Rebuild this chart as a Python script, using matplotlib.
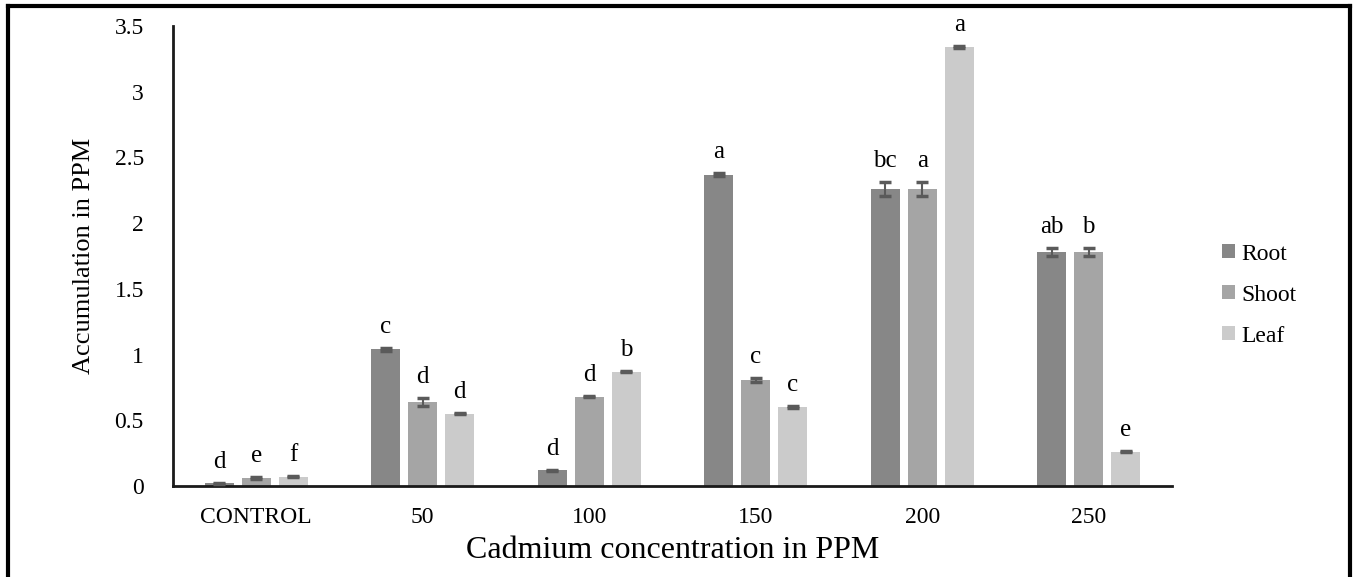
import matplotlib.pyplot as plt
import numpy as np
from matplotlib.lines import Line2D

plt.rcParams['font.family'] = ['Liberation Serif', 'DejaVu Serif']

categories = ['CONTROL', '50', '100', '150', '200', '250']
series = ['Root', 'Shoot', 'Leaf']
root = [0.02, 1.04, 0.12, 2.37, 2.26, 1.78]
shoot = [0.06, 0.64, 0.68, 0.81, 2.26, 1.78]
leaf = [0.07, 0.55, 0.87, 0.60, 3.34, 0.26]
root_err = [0.005, 0.01, 0.005, 0.015, 0.05, 0.03]
shoot_err = [0.005, 0.03, 0.005, 0.015, 0.05, 0.03]
leaf_err = [0.005, 0.005, 0.005, 0.005, 0.005, 0.005]
root_letters = ['d', 'c', 'd', 'a', 'bc', 'ab']
shoot_letters = ['e', 'd', 'd', 'c', 'a', 'b']
leaf_letters = ['f', 'd', 'b', 'c', 'a', 'e']
yticks = [0, 0.5, 1, 1.5, 2, 2.5, 3, 3.5]
ytick_labels = ['0', '0.5', '1', '1.5', '2', '2.5', '3', '3.5']

colors = ['#878787', '#a5a5a5', '#cbcbcb']
err_color = '#5a5a5a'

fig = plt.figure(figsize=(13.56, 5.77), dpi=100)
ax = fig.add_axes([173 / 1356, 1 - 486 / 577, 999 / 1356, 460 / 577])

x = np.arange(len(categories))
step = 0.222
width = 0.174
data = [root, shoot, leaf]
errs = [root_err, shoot_err, leaf_err]
letters = [root_letters, shoot_letters, leaf_letters]

for i in range(3):
    pos = x + (i - 1) * step
    ax.bar(pos, data[i], width, color=colors[i], label=series[i], zorder=2)
    ax.errorbar(pos, data[i], yerr=errs[i], fmt='none', ecolor=err_color,
                elinewidth=1.5, capsize=4, capthick=2.5, zorder=3)
    for p, v, e, t in zip(pos, data[i], errs[i], letters[i]):
        ax.text(p, v + e + 0.16, t, ha='center', va='center', fontsize=18)

ax.set_xlim(-0.5, 5.5)
ax.set_ylim(0, 3.5)
ax.set_xticks(x)
ax.set_xticklabels(categories, fontsize=17)
ax.set_yticks(yticks)
ax.set_yticklabels(ytick_labels, fontsize=17)
ax.tick_params(axis='both', length=0)
ax.tick_params(axis='y', pad=21)
ax.tick_params(axis='x', pad=15)

for s in ['top', 'right']:
    ax.spines[s].set_visible(False)
for s in ['left', 'bottom']:
    ax.spines[s].set_linewidth(2)
    ax.spines[s].set_color('#1a1a1a')

ax.set_xlabel('Cadmium concentration in PPM', fontsize=23, labelpad=6)
ax.set_ylabel('Accumulation in PPM', fontsize=19, labelpad=14)

ax.legend(loc='center left', bbox_to_anchor=(1.038, 0.415), frameon=False,
          fontsize=17, handlelength=0.55, handleheight=0.55,
          handletextpad=0.3, labelspacing=0.85, borderpad=0)

# outer frame (bottom edge is cut off in the original)
fig.add_artist(Line2D([8 / 1356, 8 / 1356], [0, 1 - 6 / 577], color='black', lw=3))
fig.add_artist(Line2D([8 / 1356, 1350 / 1356], [1 - 6 / 577, 1 - 6 / 577], color='black', lw=3))
fig.add_artist(Line2D([1350 / 1356, 1350 / 1356], [0, 1 - 6 / 577], color='black', lw=3))

fig.savefig('out.png', dpi=100)
